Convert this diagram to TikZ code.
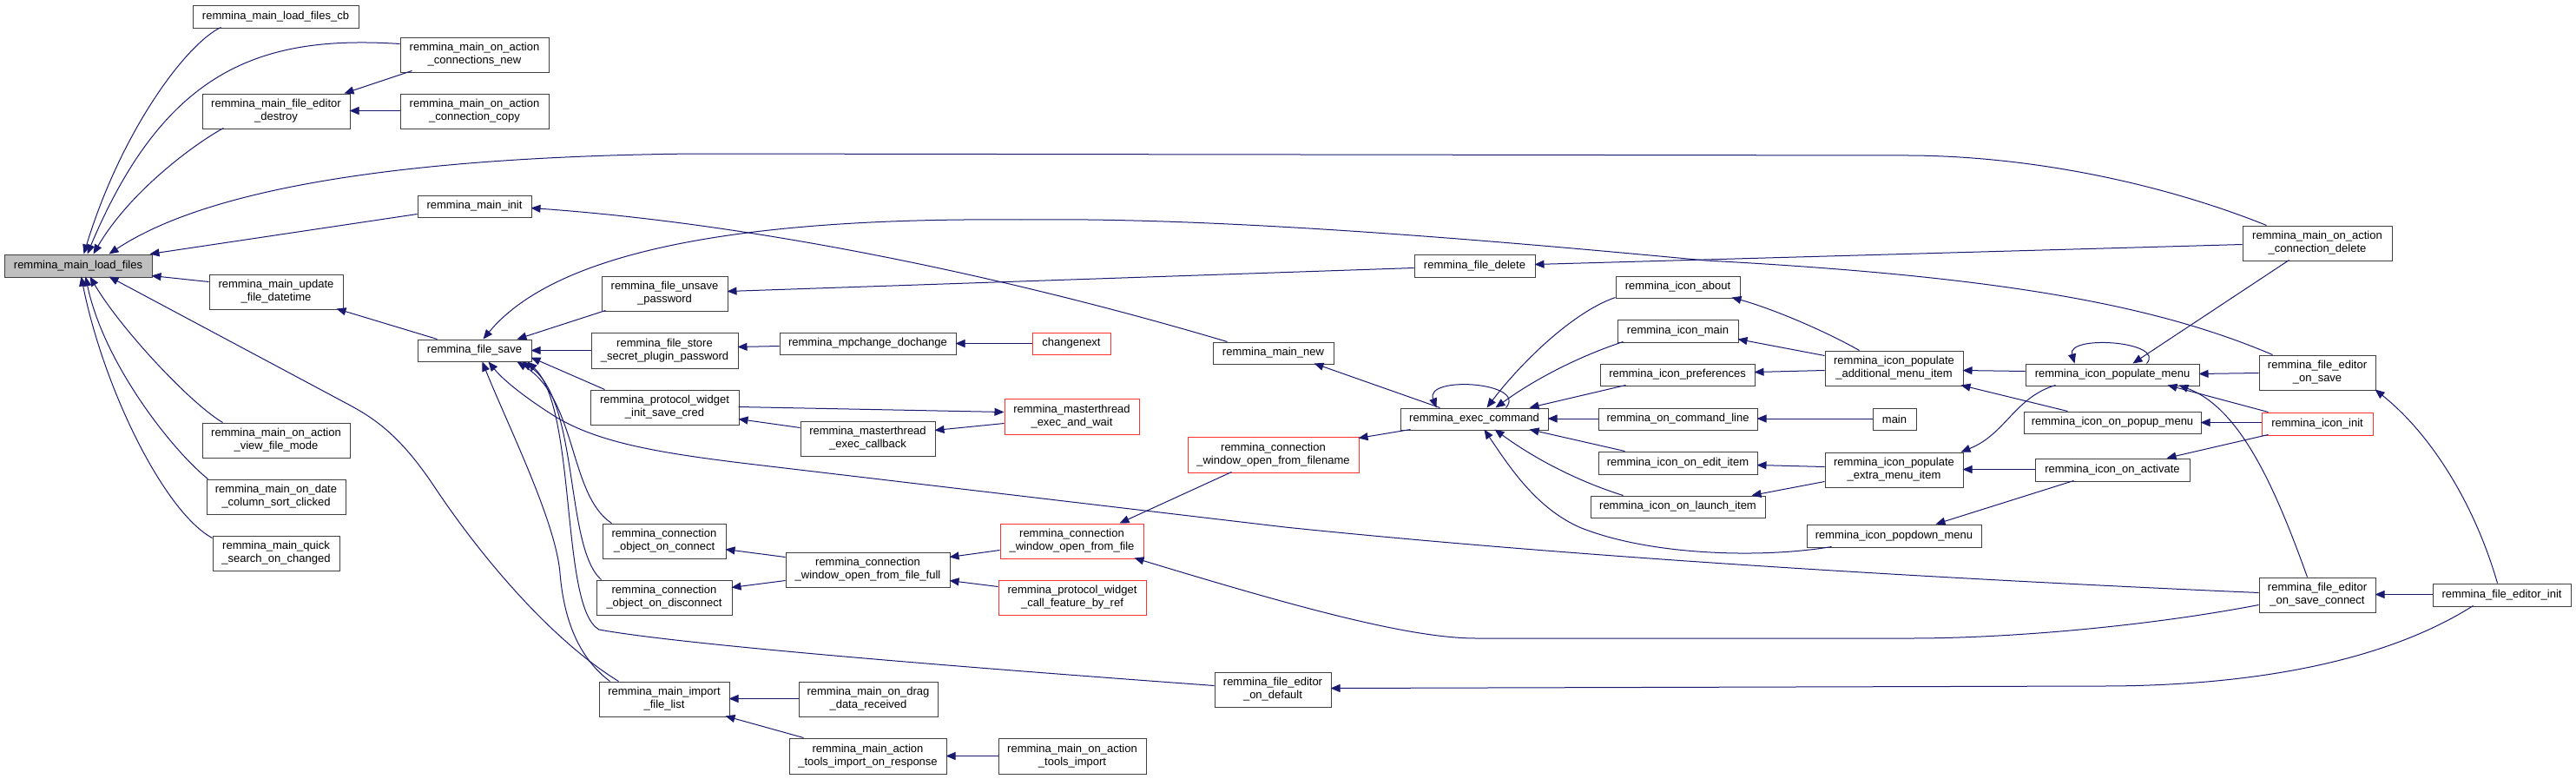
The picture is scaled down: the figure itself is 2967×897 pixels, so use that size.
\documentclass[tikz,border=0pt]{standalone}
\usepackage{fontspec}
\setmainfont{Liberation Sans}
\usetikzlibrary{arrows.meta,calc}
\definecolor{edgec}{HTML}{191970}
\definecolor{boxc}{HTML}{404040}
\definecolor{redc}{HTML}{FF3030}
\definecolor{rootc}{HTML}{BFBFBF}
\tikzset{
  box/.style={draw=boxc, line width=1pt, fill=white, align=center, inner sep=0pt,
    font=\fontsize{13}{15}\selectfont},
  redbox/.style={box, draw=redc},
  rootbox/.style={box, fill=rootc},
  edge/.style={draw=edgec, line width=1pt, -{Triangle[length=11pt,width=9pt]}},
}
\begin{document}
\begin{tikzpicture}[x=1pt,y=-1pt]
\useasboundingbox (0,0) rectangle (2967,897);
% nodes
\node[rootbox, minimum width=170pt, minimum height=26pt] (lf) at (90,306) {remmina\_main\_load\_files};
\node[box, minimum width=191pt, minimum height=26pt] (cb) at (317.5,19) {remmina\_main\_load\_files\_cb};
\node[box, minimum width=171pt, minimum height=40pt] (connnew) at (546.5,63) {remmina\_main\_on\_action\\\_connections\_new};
\node[box, minimum width=170pt, minimum height=40pt] (destroy) at (318,128) {remmina\_main\_file\_editor\\\_destroy};
\node[box, minimum width=171pt, minimum height=40pt] (conncopy) at (546.5,128) {remmina\_main\_on\_action\\\_connection\_copy};
\node[box, minimum width=131pt, minimum height=25pt] (maininit) at (546.5,237.5) {remmina\_main\_init};
\node[box, minimum width=154pt, minimum height=40pt] (datetime) at (318,336) {remmina\_main\_update\\\_file\_datetime};
\node[box, minimum width=131pt, minimum height=25pt] (filesave) at (546.5,403.5) {remmina\_file\_save};
\node[box, minimum width=170pt, minimum height=40pt] (viewmode) at (318,507) {remmina\_main\_on\_action\\\_view\_file\_mode};
\node[box, minimum width=160pt, minimum height=40pt] (datecol) at (318,572) {remmina\_main\_on\_date\\\_column\_sort\_clicked};
\node[box, minimum width=146pt, minimum height=40pt] (quick) at (318,637) {remmina\_main\_quick\\\_search\_on\_changed};
\node[box, minimum width=145pt, minimum height=40pt] (unsave) at (765.5,338) {remmina\_file\_unsave\\\_password};
\node[box, minimum width=169pt, minimum height=41pt] (storesecret) at (765.5,403.5) {remmina\_file\_store\\\_secret\_plugin\_password};
\node[box, minimum width=171pt, minimum height=40pt] (savecred) at (765.5,469) {remmina\_protocol\_widget\\\_init\_save\_cred};
\node[box, minimum width=142pt, minimum height=40pt] (objconnect) at (765,623) {remmina\_connection\\\_object\_on\_connect};
\node[box, minimum width=156pt, minimum height=40pt] (objdisconnect) at (765,688) {remmina\_connection\\\_object\_on\_disconnect};
\node[box, minimum width=150pt, minimum height=40pt] (importlist) at (765,805) {remmina\_main\_import\\\_file\_list};
\node[box, minimum width=203pt, minimum height=25pt] (dochange) at (999.5,395.5) {remmina\_mpchange\_dochange};
\node[redbox, minimum width=90pt, minimum height=25pt] (changenext) at (1234,395.5) {changenext};
\node[box, minimum width=139pt, minimum height=25pt] (mainnew) at (1466.5,406.5) {remmina\_main\_new};
\node[redbox, minimum width=155pt, minimum height=41pt] (execwait) at (1234.5,479.5) {remmina\_masterthread\\\_exec\_and\_wait};
\node[box, minimum width=155pt, minimum height=40pt] (execcb) at (999.5,505) {remmina\_masterthread\\\_exec\_callback};
\node[redbox, minimum width=197pt, minimum height=41pt] (fromfilename) at (1466.5,523.5) {remmina\_connection\\\_window\_open\_from\_filename};
\node[redbox, minimum width=165pt, minimum height=40pt] (fromfile) at (1234.5,623) {remmina\_connection\\\_window\_open\_from\_file};
\node[box, minimum width=189pt, minimum height=40pt] (fromfilefull) at (999.5,656) {remmina\_connection\\\_window\_open\_from\_file\_full};
\node[redbox, minimum width=170pt, minimum height=40pt] (callfeature) at (1235,688) {remmina\_protocol\_widget\\\_call\_feature\_by\_ref};
\node[box, minimum width=134pt, minimum height=40pt] (ondefault) at (1466,794) {remmina\_file\_editor\\\_on\_default};
\node[box, minimum width=160pt, minimum height=40pt] (dragdata) at (1000,805) {remmina\_main\_on\_drag\\\_data\_received};
\node[box, minimum width=181pt, minimum height=41pt] (importresp) at (999.5,870.5) {remmina\_main\_action\\\_tools\_import\_on\_response};
\node[box, minimum width=170pt, minimum height=41pt] (toolsimport) at (1235,870.5) {remmina\_main\_on\_action\\\_tools\_import};
\node[box, minimum width=139pt, minimum height=26pt] (filedelete) at (1698.5,306) {remmina\_file\_delete};
\node[box, minimum width=143pt, minimum height=25pt] (iconabout) at (1932.5,330.5) {remmina\_icon\_about};
\node[box, minimum width=139pt, minimum height=26pt] (iconmain) at (1932.5,381) {remmina\_icon\_main};
\node[box, minimum width=178pt, minimum height=25pt] (iconprefs) at (1932,431.5) {remmina\_icon\_preferences};
\node[box, minimum width=159pt, minimum height=40pt] (additional) at (2181.5,424) {remmina\_icon\_populate\\\_additional\_menu\_item};
\node[box, minimum width=170pt, minimum height=25pt] (execcmd) at (1698,482.5) {remmina\_exec\_command};
\node[box, minimum width=183pt, minimum height=25pt] (cmdline) at (1932.5,482.5) {remmina\_on\_command\_line};
\node[box, minimum width=50pt, minimum height=25pt] (main) at (2182,482.5) {main};
\node[box, minimum width=183pt, minimum height=26pt] (edititem) at (1932.5,533) {remmina\_icon\_on\_edit\_item};
\node[box, minimum width=159pt, minimum height=40pt] (extra) at (2181.5,541) {remmina\_icon\_populate\\\_extra\_menu\_item};
\node[box, minimum width=201pt, minimum height=25pt] (launchitem) at (1932.5,583.5) {remmina\_icon\_on\_launch\_item};
\node[box, minimum width=201pt, minimum height=26pt] (popdown) at (2181.5,617) {remmina\_icon\_popdown\_menu};
\node[box, minimum width=200pt, minimum height=25pt] (populatemenu) at (2433,431.5) {remmina\_icon\_populate\_menu};
\node[box, minimum width=172pt, minimum height=40pt] (conndelete) at (2669,280) {remmina\_main\_on\_action\\\_connection\_delete};
\node[box, minimum width=134pt, minimum height=40pt] (onsave) at (2669,429) {remmina\_file\_editor\\\_on\_save};
\node[box, minimum width=204pt, minimum height=25pt] (popupmenu) at (2433,486.5) {remmina\_icon\_on\_popup\_menu};
\node[redbox, minimum width=128pt, minimum height=26pt] (iconinit) at (2669,488) {remmina\_icon\_init};
\node[box, minimum width=178pt, minimum height=26pt] (onactivate) at (2433,541) {remmina\_icon\_on\_activate};
\node[box, minimum width=134pt, minimum height=40pt] (saveconnect) at (2669,685) {remmina\_file\_editor\\\_on\_save\_connect};
\node[box, minimum width=159pt, minimum height=26pt] (editorinit) at (2881.5,685) {remmina\_file\_editor\_init};

% edges into remmina_main_load_files
\draw[edge] ($(cb.north west)+(33,26)$) .. controls (215,50) and (140,150) .. ($(lf.north west)+(92,0)$);
\draw[edge] ($(connnew.north west)+(0,8)$) .. controls (300,40) and (190,80) .. ($(lf.north west)+(96,0)$);
\draw[edge] ($(destroy.north west)+(25,40)$) .. controls (225,165) and (150,220) .. ($(lf.north west)+(103,0)$);
\draw[edge] ($(conndelete.north west)+(28,0)$) .. controls (2500,215) and (2350,180) .. (2200,179) -- (800,177) .. controls (500,180) and (250,210) .. ($(lf.north west)+(121,0)$);
\draw[edge] ($(maininit.north west)+(0,22)$) -- ($(lf.north west)+(168,0)$);
\draw[edge] ($(datetime.north west)+(0,9)$) -- ($(lf.north west)+(170,25)$);
\draw[edge] ($(viewmode.north west)+(24,0)$) .. controls (220,465) and (140,380) .. ($(lf.north west)+(99,26)$);
\draw[edge] ($(datecol.north west)+(2,0)$) .. controls (200,520) and (120,420) .. ($(lf.north west)+(94,26)$);
\draw[edge] ($(quick.north west)+(0,3)$) .. controls (190,590) and (120,450) .. ($(lf.north west)+(89,26)$);
\draw[edge] ($(importlist.north west)+(23,0)$) .. controls (640,740) and (560,650) .. (500,560) .. controls (460,500) and (430,481) .. (400,465) -- ($(lf.north west)+(121,26)$);

% left cluster
\draw[edge] ($(connnew.north west)+(14,39)$) -- ($(destroy.north west)+(164,0)$);
\draw[edge] ($(conncopy.north west)+(0,20)$) -- ($(destroy.north west)+(170,20)$);
\draw[edge] ($(mainnew.north west)+(17,0)$) .. controls (1200,330) and (900,260) .. ($(maininit.north west)+(131,15)$);
\draw[edge] ($(filesave.north west)+(23,0)$) -- ($(datetime.north west)+(147,40)$);

% edges into remmina_file_save
\draw[edge] ($(onsave.north west)+(16,0)$) .. controls (2480,350) and (2300,318) .. (1965,300) .. controls (1700,275) and (1400,250) .. (1176,253) .. controls (850,250) and (640,290) .. ($(filesave.north west)+(76,0)$);
\draw[edge] ($(unsave.north west)+(5,40)$) -- ($(filesave.north west)+(115,0)$);
\draw[edge] ($(storesecret.north west)+(0,21)$) -- ($(filesave.north west)+(131,13)$);
\draw[edge] ($(savecred.north west)+(17,0)$) -- ($(filesave.north west)+(131,21)$);
\draw[edge] ($(saveconnect.north west)+(0,18)$) .. controls (2200,665) and (1800,640) .. (1480,607) -- (870,535) .. controls (760,522) and (690,510) .. (640,480) .. controls (605,458) and (580,438) .. ($(filesave.north west)+(82,26)$);
\draw[edge] ($(objconnect.north west)+(11,0)$) .. controls (655,570) and (665,460) .. ($(filesave.north west)+(115,26)$);
\draw[edge] ($(objdisconnect.north west)+(6,0)$) .. controls (650,630) and (668,460) .. ($(filesave.north west)+(121,26)$);
\draw[edge] ($(ondefault.north west)+(0,16)$) .. controls (1200,775) and (800,745) .. (690,725) .. controls (645,700) and (665,470) .. ($(filesave.north west)+(127,26)$);
\draw[edge] ($(importlist.north west)+(13,0)$) .. controls (670,760) and (650,720) .. (645,660) .. controls (640,600) and (585,490) .. ($(filesave.north west)+(75,26)$);

% middle
\draw[edge] ($(dochange.north west)+(0,16)$) -- ($(storesecret.north west)+(169,17)$);
\draw[edge] ($(changenext.north west)+(0,13)$) -- ($(dochange.north west)+(203,13)$);
\draw[edge] ($(execcb.north west)+(0,8)$) -- ($(savecred.north west)+(171,34)$);
\draw[edge] ($(savecred.north west)+(171,20)$) -- ($(execwait.north west)+(0,16)$);
\draw[edge] ($(execwait.north west)+(0,29)$) -- ($(execcb.north west)+(155,11)$);
\draw[edge] ($(fromfilefull.north west)+(0,6)$) -- ($(objconnect.north west)+(142,30)$);
\draw[edge] ($(fromfilefull.north west)+(0,33)$) -- ($(objdisconnect.north west)+(156,9)$);
\draw[edge] ($(fromfile.north west)+(0,31)$) -- ($(fromfilefull.north west)+(189,6)$);
\draw[edge] ($(callfeature.north west)+(0,8)$) -- ($(fromfilefull.north west)+(189,33)$);
\draw[edge] ($(fromfilename.north west)+(51,41)$) -- ($(fromfile.north west)+(138,0)$);
\draw[edge] ($(saveconnect.north west)+(0,32)$) .. controls (2480,720) and (2320,735) .. (2200,735) -- (1700,735) .. controls (1620,735) and (1480,695) .. ($(fromfile.north west)+(155,40)$);
\draw[edge] ($(dragdata.north west)+(0,20)$) -- ($(importlist.north west)+(150,20)$);
\draw[edge] ($(importresp.north west)+(17,0)$) -- ($(importlist.north west)+(146,40)$);
\draw[edge] ($(toolsimport.north west)+(0,21)$) -- ($(importresp.north west)+(181,21)$);

% exec command
\draw[edge] ($(execcmd.north west)+(12,25)$) -- ($(fromfilename.north west)+(197,2)$);
\draw[edge] ($(execcmd.north west)+(46,0)$) -- ($(mainnew.north west)+(117,25)$);
\draw[edge] ($(execcmd.north west)+(122,0)$) .. controls (1760,440) and (1640,432) .. ($(execcmd.north west)+(42,0)$);
\draw[edge] ($(iconabout.north west)+(0,25)$) .. controls (1810,360) and (1750,420) .. ($(execcmd.north west)+(100,0)$);
\draw[edge] ($(iconmain.north west)+(7,26)$) .. controls (1820,410) and (1770,435) .. ($(execcmd.north west)+(110,0)$);
\draw[edge] ($(iconprefs.north west)+(30,25)$) -- ($(execcmd.north west)+(149,0)$);
\draw[edge] ($(cmdline.north west)+(0,12.5)$) -- ($(execcmd.north west)+(170,12.5)$);
\draw[edge] ($(main.north west)+(0,12.5)$) -- ($(cmdline.north west)+(183,12.5)$);
\draw[edge] ($(edititem.north west)+(31,0)$) -- ($(execcmd.north west)+(149,25)$);
\draw[edge] ($(launchitem.north west)+(38,0)$) .. controls (1820,555) and (1770,530) .. ($(execcmd.north west)+(109,25)$);
\draw[edge] ($(popdown.north west)+(29,26)$) .. controls (2030,643) and (1900,640) .. (1819,607) .. controls (1770,585) and (1740,540) .. ($(execcmd.north west)+(97,25)$);

% icon cluster
\draw[edge] ($(additional.north west)+(40,0)$) .. controls (2100,380) and (2040,355) .. ($(iconabout.north west)+(134,25)$);
\draw[edge] ($(additional.north west)+(0,6)$) -- ($(iconmain.north west)+(139,23)$);
\draw[edge] ($(additional.north west)+(0,23)$) -- ($(iconprefs.north west)+(178,10)$);
\draw[edge] ($(extra.north west)+(0,17)$) -- ($(edititem.north west)+(183,16)$);
\draw[edge] ($(extra.north west)+(0,34)$) -- ($(launchitem.north west)+(186,0)$);
\draw[edge] ($(populatemenu.north west)+(0,9)$) -- ($(additional.north west)+(159,23)$);
\draw[edge] ($(popupmenu.north west)+(51,0)$) -- ($(additional.north west)+(157,40)$);
\draw[edge] ($(populatemenu.north west)+(35,25)$) .. controls (2320,458) and (2310,500) .. ($(extra.north west)+(157,0)$);
\draw[edge] ($(onactivate.north west)+(0,13)$) -- ($(extra.north west)+(159,20)$);
\draw[edge] ($(onactivate.north west)+(45,26)$) -- ($(popdown.north west)+(149,0)$);
\draw[edge] ($(populatemenu.north west)+(140,0)$) .. controls (2495,393) and (2380,385) .. ($(populatemenu.north west)+(57,0)$);
\draw[edge] ($(conndelete.north west)+(54,40)$) -- ($(populatemenu.north west)+(124,0)$);
\draw[edge] ($(onsave.north west)+(0,21)$) -- ($(populatemenu.north west)+(200,12)$);
\draw[edge] ($(iconinit.north west)+(8,0)$) -- ($(populatemenu.north west)+(164,25)$);
\draw[edge] ($(saveconnect.north west)+(56,0)$) .. controls (2620,560) and (2580,470) .. ($(populatemenu.north west)+(177,25)$);
\draw[edge] ($(iconinit.north west)+(0,12)$) -- ($(popupmenu.north west)+(204,13)$);
\draw[edge] ($(iconinit.north west)+(8,26)$) -- ($(onactivate.north west)+(152,0)$);

% right
\draw[edge] ($(editorinit.north west)+(75,0)$) .. controls (2850,580) and (2800,500) .. ($(onsave.north west)+(134,40)$);
\draw[edge] ($(editorinit.north west)+(0,13)$) -- ($(saveconnect.north west)+(134,20)$);
\draw[edge] ($(editorinit.north west)+(47,26)$) .. controls (2750,760) and (2600,790) .. (2420,790) -- ($(ondefault.north west)+(134,19)$);
\draw[edge] ($(filedelete.north west)+(0,16)$) -- ($(unsave.north west)+(145,18)$);
\draw[edge] ($(conndelete.north west)+(0,22)$) -- ($(filedelete.north west)+(139,12)$);
\end{tikzpicture}
\end{document}
